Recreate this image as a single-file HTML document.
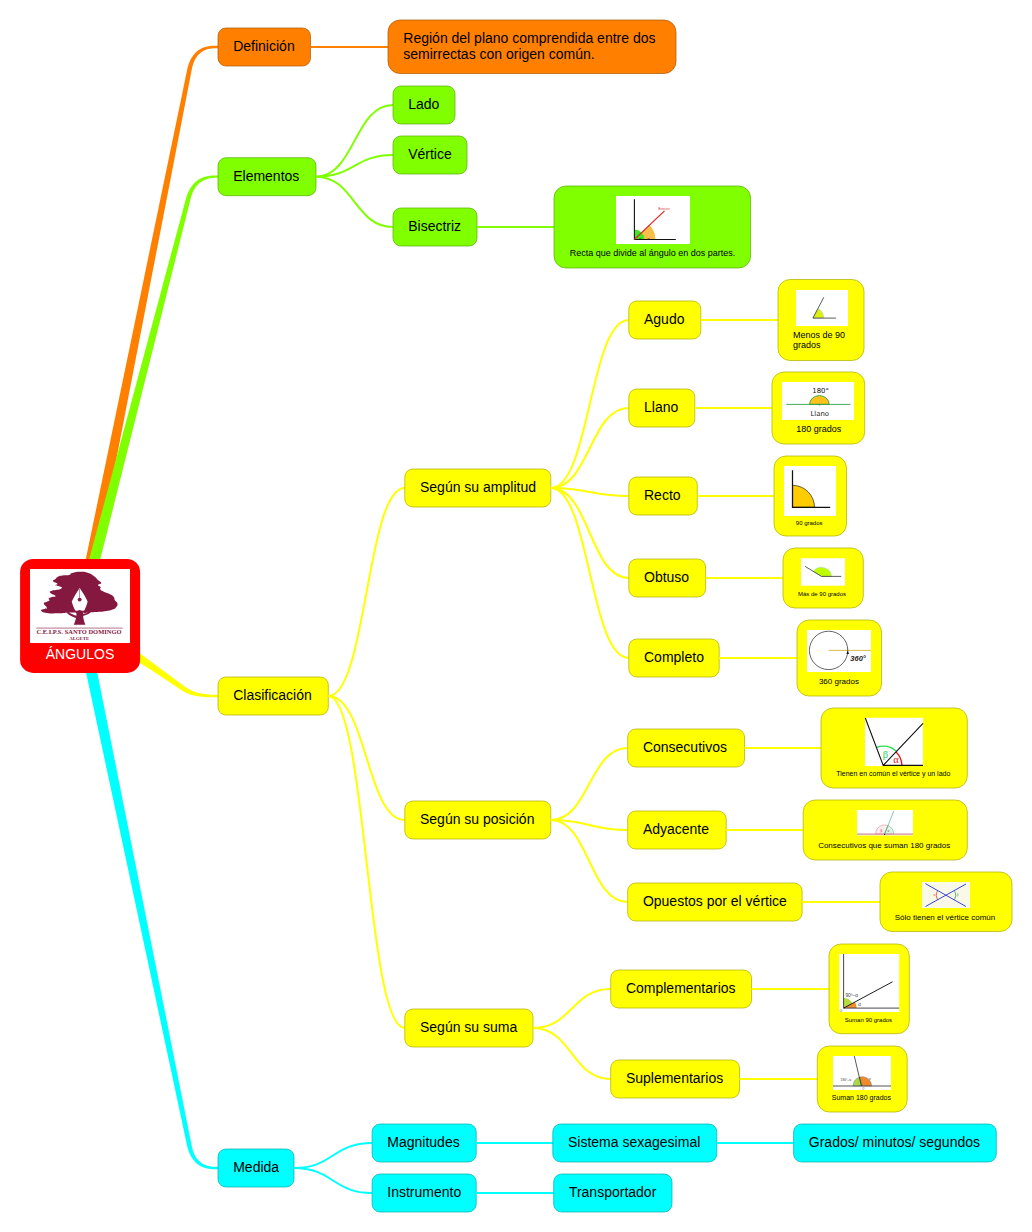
<!DOCTYPE html>
<html lang="es"><head><meta charset="utf-8"><title>ÁNGULOS</title>
<style>html,body{margin:0;padding:0;background:#fff}svg{display:block}text{font-family:"Liberation Sans", Arial, Helvetica, sans-serif}</style></head>
<body><svg width="1032" height="1232" viewBox="0 0 1032 1232">
<rect width="1032" height="1232" fill="#fff"/>
<path d="M85.74,617.15 L91.03,589.79 L96.33,562.43 L101.63,535.08 L106.93,507.72 L112.22,480.36 L117.52,453.00 L122.82,425.64 L128.12,398.29 L133.41,370.93 L138.71,343.57 L144.01,316.21 L149.31,288.86 L154.60,261.50 L159.90,234.14 L165.20,206.78 L170.50,179.42 L175.79,152.07 L181.09,124.71 L186.39,97.35 L191.69,69.99 L192.22,67.37 L192.87,64.93 L193.64,62.67 L194.53,60.58 L195.53,58.67 L196.65,56.92 L197.89,55.34 L199.25,53.91 L200.73,52.64 L202.34,51.53 L204.09,50.57 L205.98,49.76 L208.02,49.11 L210.20,48.63 L212.53,48.30 L215.00,48.15 L220.00,48.15 L220.00,45.85 L215.00,45.85 L212.35,45.87 L209.82,46.08 L207.39,46.47 L205.08,47.06 L202.88,47.84 L200.79,48.81 L198.83,49.99 L197.00,51.36 L195.29,52.94 L193.73,54.70 L192.30,56.65 L191.01,58.79 L189.87,61.10 L188.87,63.60 L188.00,66.27 L187.28,69.11 L181.63,96.40 L175.98,123.68 L170.32,150.97 L164.67,178.26 L159.02,205.55 L153.37,232.83 L147.72,260.12 L142.07,287.41 L136.42,314.69 L130.77,341.98 L125.12,369.27 L119.47,396.55 L113.82,423.84 L108.17,451.13 L102.52,478.42 L96.87,505.70 L91.22,532.99 L85.57,560.28 L79.91,587.56 L74.26,614.85Z" fill="#FF8000"/>
<path d="M85.66,617.47 L90.90,596.57 L96.14,575.68 L101.38,554.78 L106.62,533.88 L111.86,512.99 L117.10,492.09 L122.33,471.19 L127.57,450.30 L132.81,429.40 L138.05,408.50 L143.29,387.61 L148.53,366.71 L153.77,345.81 L159.01,324.92 L164.25,304.02 L169.48,283.12 L174.72,262.23 L179.96,241.33 L185.20,220.43 L190.44,199.54 L191.12,196.95 L191.90,194.53 L192.80,192.29 L193.80,190.22 L194.91,188.32 L196.13,186.58 L197.46,185.01 L198.91,183.59 L200.47,182.33 L202.15,181.22 L203.95,180.26 L205.89,179.46 L207.97,178.81 L210.17,178.33 L212.52,178.01 L215.00,177.85 L220.00,177.85 L220.00,175.55 L215.00,175.55 L212.35,175.57 L209.80,175.77 L207.35,176.15 L205.01,176.73 L202.77,177.49 L200.63,178.45 L198.61,179.60 L196.71,180.94 L194.92,182.48 L193.26,184.21 L191.73,186.13 L190.32,188.22 L189.05,190.50 L187.91,192.96 L186.89,195.59 L186.01,198.39 L180.42,219.19 L174.84,240.00 L169.26,260.81 L163.67,281.62 L158.09,302.42 L152.51,323.23 L146.92,344.04 L141.34,364.84 L135.76,385.65 L130.17,406.46 L124.59,427.27 L119.00,448.07 L113.42,468.88 L107.84,489.69 L102.25,510.49 L96.67,531.30 L91.09,552.11 L85.50,572.92 L79.92,593.72 L74.34,614.53Z" fill="#80FF00"/>
<path d="M76.64,620.79 L81.91,624.28 L87.17,627.76 L92.44,631.25 L97.70,634.74 L102.97,638.23 L108.23,641.71 L113.50,645.20 L118.76,648.69 L124.03,652.18 L129.30,655.66 L134.56,659.15 L139.83,662.64 L145.09,666.13 L150.36,669.61 L155.62,673.10 L160.89,676.59 L166.15,680.08 L171.42,683.56 L176.69,687.05 L181.95,690.54 L183.47,691.45 L185.06,692.28 L186.71,693.05 L188.42,693.75 L190.20,694.38 L192.04,694.95 L193.95,695.45 L195.91,695.88 L197.95,696.25 L200.04,696.56 L202.20,696.81 L204.43,697.00 L206.72,697.13 L209.08,697.19 L211.51,697.20 L214.00,697.15 L220.00,697.15 L220.00,694.85 L214.00,694.85 L211.57,694.74 L209.21,694.57 L206.94,694.35 L204.74,694.07 L202.62,693.73 L200.59,693.34 L198.64,692.89 L196.77,692.38 L194.98,691.83 L193.27,691.22 L191.65,690.56 L190.11,689.85 L188.65,689.09 L187.27,688.28 L185.98,687.43 L184.77,686.53 L179.70,682.76 L174.63,679.00 L169.56,675.23 L164.48,671.46 L159.41,667.70 L154.34,663.93 L149.27,660.17 L144.20,656.40 L139.13,652.63 L134.06,648.87 L128.99,645.10 L123.92,641.34 L118.85,637.57 L113.78,633.81 L108.71,630.04 L103.64,626.27 L98.57,622.51 L93.50,618.74 L88.43,614.98 L83.36,611.21Z" fill="#FFFF00"/>
<path d="M74.27,617.18 L79.91,643.62 L85.56,670.06 L91.20,696.50 L96.85,722.93 L102.49,749.37 L108.13,775.81 L113.78,802.24 L119.42,828.68 L125.06,855.12 L130.71,881.56 L136.35,907.99 L141.99,934.43 L147.64,960.87 L153.28,987.31 L158.92,1013.74 L164.57,1040.18 L170.21,1066.62 L175.85,1093.06 L181.50,1119.49 L187.14,1145.93 L187.88,1148.77 L188.76,1151.43 L189.78,1153.93 L190.94,1156.24 L192.24,1158.37 L193.68,1160.32 L195.25,1162.08 L196.96,1163.65 L198.81,1165.02 L200.78,1166.19 L202.87,1167.17 L205.07,1167.94 L207.39,1168.53 L209.82,1168.92 L212.35,1169.13 L215.00,1169.15 L220.00,1169.15 L220.00,1166.85 L215.00,1166.85 L212.52,1166.70 L210.19,1166.37 L208.01,1165.89 L205.97,1165.24 L204.08,1164.43 L202.32,1163.47 L200.70,1162.36 L199.21,1161.09 L197.84,1159.67 L196.60,1158.08 L195.47,1156.34 L194.45,1154.42 L193.55,1152.34 L192.77,1150.07 L192.10,1147.64 L191.55,1145.02 L186.26,1118.51 L180.97,1092.00 L175.68,1065.49 L170.39,1038.98 L165.10,1012.47 L159.81,985.96 L154.52,959.45 L149.22,932.94 L143.93,906.43 L138.64,879.92 L133.35,853.41 L128.06,826.90 L122.77,800.39 L117.48,773.88 L112.19,747.37 L106.89,720.86 L101.60,694.35 L96.31,667.84 L91.02,641.33 L85.73,614.82Z" fill="#00FFFF"/>
<rect x="218" y="28.0" width="92.5" height="38.0" rx="8" fill="#FF8000" stroke="#AD5700" stroke-width="0.7"/>
<text x="233.20" y="51" font-size="14" text-anchor="start" fill="#000" >Definición</text>
<rect x="218" y="157.7" width="98.0" height="38.0" rx="8" fill="#80FF00" stroke="#57AD00" stroke-width="0.7"/>
<text x="233.20" y="180.7" font-size="14" text-anchor="start" fill="#000" >Elementos</text>
<rect x="218" y="677.0" width="110.3" height="38.0" rx="8" fill="#FFFF00" stroke="#ADAD00" stroke-width="0.7"/>
<text x="233.20" y="700" font-size="14" text-anchor="start" fill="#000" >Clasificación</text>
<rect x="218" y="1149.0" width="76.0" height="38.0" rx="8" fill="#00FFFF" stroke="#00ADAD" stroke-width="0.7"/>
<text x="233.20" y="1172" font-size="14" text-anchor="start" fill="#000" >Medida</text>
<path d="M310.5,47L388,47" stroke="#FF8000" stroke-width="2" fill="none"/>
<rect x="388" y="20" width="288.0" height="53.5" rx="12" fill="#FF8000" stroke="#AD5700" stroke-width="0.7"/>
<text x="403.3" y="43" font-size="14" text-anchor="start" fill="#000" >Región del plano comprendida entre dos</text>
<text x="403.3" y="59" font-size="14" text-anchor="start" fill="#000" >semirrectas con origen común.</text>
<path d="M316,176.7C354.5,176.7 354.5,105 393,105" stroke="#80FF00" stroke-width="2" fill="none"/>
<path d="M316,176.7C354.5,176.7 354.5,155 393,155" stroke="#80FF00" stroke-width="2" fill="none"/>
<path d="M316,176.7C354.5,176.7 354.5,227 393,227" stroke="#80FF00" stroke-width="2" fill="none"/>
<rect x="393" y="86.0" width="62.0" height="38.0" rx="8" fill="#80FF00" stroke="#57AD00" stroke-width="0.7"/>
<text x="408.20" y="109" font-size="14" text-anchor="start" fill="#000" >Lado</text>
<rect x="393" y="136.0" width="74.0" height="38.0" rx="8" fill="#80FF00" stroke="#57AD00" stroke-width="0.7"/>
<text x="408.20" y="159" font-size="14" text-anchor="start" fill="#000" >Vértice</text>
<rect x="393" y="208.0" width="84.0" height="38.0" rx="8" fill="#80FF00" stroke="#57AD00" stroke-width="0.7"/>
<text x="408.20" y="231" font-size="14" text-anchor="start" fill="#000" >Bisectriz</text>
<path d="M477,227L554,227" stroke="#80FF00" stroke-width="2" fill="none"/>
<rect x="554" y="186" width="196.6" height="82.0" rx="12" fill="#80FF00" stroke="#57AD00" stroke-width="0.7"/>
<g id="img-bisectriz"><rect x="616" y="196" width="74" height="48" fill="#fff"/><path d="M634.4,239.5 L655.4,239.5 A21,21 0 0 0 649.25,224.65 Z" fill="#F7BE4A"/><path d="M634.4,239.5 L644.4,239.5 A10,10 0 0 0 634.4,229.5 Z" fill="#3EE81E"/><path d="M634.4,199.2 V239.5 H675.8" stroke="#111" stroke-width="1.1" fill="none"/><path d="M634.4,239.5 L664.5,210.9" stroke="#D93030" stroke-width="1.3"/>
<text x="664" y="209.6" font-size="3.1" text-anchor="middle" fill="#D04040" >Bisectriz</text>
<text x="640.5" y="238.6" font-size="2.4" text-anchor="middle" fill="#222" >90°</text>
<text x="648.8" y="238.6" font-size="2.4" text-anchor="middle" fill="#222" >45°</text>
</g>
<text x="652.5" y="256" font-size="9" text-anchor="middle" fill="#000" >Recta que divide al ángulo en dos partes.</text>
<path d="M328.3,696C366.6,696 366.6,488 404.8,488" stroke="#FFFF00" stroke-width="2" fill="none"/>
<path d="M328.3,696C366.6,696 366.6,820 404.8,820" stroke="#FFFF00" stroke-width="2" fill="none"/>
<path d="M328.3,696C366.6,696 366.6,1028 404.8,1028" stroke="#FFFF00" stroke-width="2" fill="none"/>
<rect x="404.8" y="469.0" width="146.0" height="38.0" rx="8" fill="#FFFF00" stroke="#ADAD00" stroke-width="0.7"/>
<text x="420.00" y="492" font-size="14" text-anchor="start" fill="#000" >Según su amplitud</text>
<rect x="404.8" y="801.0" width="146.0" height="38.0" rx="8" fill="#FFFF00" stroke="#ADAD00" stroke-width="0.7"/>
<text x="420.00" y="824" font-size="14" text-anchor="start" fill="#000" >Según su posición</text>
<rect x="404.8" y="1009.0" width="128.2" height="38.0" rx="8" fill="#FFFF00" stroke="#ADAD00" stroke-width="0.7"/>
<text x="420.00" y="1032" font-size="14" text-anchor="start" fill="#000" >Según su suma</text>
<path d="M550.8,488C589.8,488 589.8,320 628.8,320" stroke="#FFFF00" stroke-width="2" fill="none"/>
<path d="M550.8,488C589.8,488 589.8,408 628.8,408" stroke="#FFFF00" stroke-width="2" fill="none"/>
<path d="M550.8,488C589.8,488 589.8,496 628.8,496" stroke="#FFFF00" stroke-width="2" fill="none"/>
<path d="M550.8,488C589.8,488 589.8,578 628.8,578" stroke="#FFFF00" stroke-width="2" fill="none"/>
<path d="M550.8,488C589.8,488 589.8,658 628.8,658" stroke="#FFFF00" stroke-width="2" fill="none"/>
<rect x="628.8" y="301.0" width="72.0" height="38.0" rx="8" fill="#FFFF00" stroke="#ADAD00" stroke-width="0.7"/>
<text x="644.00" y="324" font-size="14" text-anchor="start" fill="#000" >Agudo</text>
<path d="M700.8,320L778,320" stroke="#FFFF00" stroke-width="2" fill="none"/>
<rect x="628.8" y="389.0" width="66.0" height="38.0" rx="8" fill="#FFFF00" stroke="#ADAD00" stroke-width="0.7"/>
<text x="644.00" y="412" font-size="14" text-anchor="start" fill="#000" >Llano</text>
<path d="M694.8,408L772,408" stroke="#FFFF00" stroke-width="2" fill="none"/>
<rect x="628.8" y="477.0" width="68.5" height="38.0" rx="8" fill="#FFFF00" stroke="#ADAD00" stroke-width="0.7"/>
<text x="644.00" y="500" font-size="14" text-anchor="start" fill="#000" >Recto</text>
<path d="M697.3,496L774,496" stroke="#FFFF00" stroke-width="2" fill="none"/>
<rect x="628.8" y="559.0" width="76.8" height="38.0" rx="8" fill="#FFFF00" stroke="#ADAD00" stroke-width="0.7"/>
<text x="644.00" y="582" font-size="14" text-anchor="start" fill="#000" >Obtuso</text>
<path d="M705.5999999999999,578L783,578" stroke="#FFFF00" stroke-width="2" fill="none"/>
<rect x="628.8" y="639.0" width="90.4" height="38.0" rx="8" fill="#FFFF00" stroke="#ADAD00" stroke-width="0.7"/>
<text x="644.00" y="662" font-size="14" text-anchor="start" fill="#000" >Completo</text>
<path d="M719.1999999999999,658L797,658" stroke="#FFFF00" stroke-width="2" fill="none"/>
<path d="M550.8,820C589.2,820 589.2,748 627.7,748" stroke="#FFFF00" stroke-width="2" fill="none"/>
<path d="M550.8,820C589.2,820 589.2,830 627.7,830" stroke="#FFFF00" stroke-width="2" fill="none"/>
<path d="M550.8,820C589.2,820 589.2,902 627.7,902" stroke="#FFFF00" stroke-width="2" fill="none"/>
<rect x="627.7" y="729.0" width="116.8" height="38.0" rx="8" fill="#FFFF00" stroke="#ADAD00" stroke-width="0.7"/>
<text x="642.90" y="752" font-size="14" text-anchor="start" fill="#000" >Consecutivos</text>
<path d="M744.5,748L821,748" stroke="#FFFF00" stroke-width="2" fill="none"/>
<rect x="627.7" y="811.0" width="98.5" height="38.0" rx="8" fill="#FFFF00" stroke="#ADAD00" stroke-width="0.7"/>
<text x="642.90" y="834" font-size="14" text-anchor="start" fill="#000" >Adyacente</text>
<path d="M726.2,830L803,830" stroke="#FFFF00" stroke-width="2" fill="none"/>
<rect x="627.7" y="883.0" width="174.4" height="38.0" rx="8" fill="#FFFF00" stroke="#ADAD00" stroke-width="0.7"/>
<text x="642.90" y="906" font-size="14" text-anchor="start" fill="#000" >Opuestos por el vértice</text>
<path d="M802.1,902L880,902" stroke="#FFFF00" stroke-width="2" fill="none"/>
<path d="M533.0,1028C571.9,1028 571.9,989 610.7,989" stroke="#FFFF00" stroke-width="2" fill="none"/>
<path d="M533.0,1028C571.9,1028 571.9,1079 610.7,1079" stroke="#FFFF00" stroke-width="2" fill="none"/>
<rect x="610.7" y="970.0" width="140.8" height="38.0" rx="8" fill="#FFFF00" stroke="#ADAD00" stroke-width="0.7"/>
<text x="625.90" y="993" font-size="14" text-anchor="start" fill="#000" >Complementarios</text>
<path d="M751.5,989L829,989" stroke="#FFFF00" stroke-width="2" fill="none"/>
<rect x="610.7" y="1060.0" width="128.8" height="38.0" rx="8" fill="#FFFF00" stroke="#ADAD00" stroke-width="0.7"/>
<text x="625.90" y="1083" font-size="14" text-anchor="start" fill="#000" >Suplementarios</text>
<path d="M739.5,1079L817,1079" stroke="#FFFF00" stroke-width="2" fill="none"/>
<rect x="778" y="279.5" width="86.0" height="81.0" rx="12" fill="#FFFF00" stroke="#ADAD00" stroke-width="0.7"/>
<g id="img-agudo"><rect x="796" y="290" width="52" height="36" fill="#fff"/><path d="M812.9,318.1 L823.8,318.1 A10.9,10.9 0 0 0 818,308.4 Z" fill="#DDEE11" stroke="#9CC8E8" stroke-width="0.4"/><path d="M823.8,297.3 L812.9,318.1 H835.9" stroke="#333" stroke-width="0.8" fill="none"/></g>
<text x="793" y="337.5" font-size="9" text-anchor="start" fill="#000" >Menos de 90</text>
<text x="793" y="347.5" font-size="9" text-anchor="start" fill="#000" >grados</text>
<rect x="772" y="372" width="92.7" height="72.0" rx="12" fill="#FFFF00" stroke="#ADAD00" stroke-width="0.7"/>
<g id="img-llano"><rect x="782" y="382" width="72" height="38" fill="#fff"/><path d="M809.6,404.4 A9.8,8.8 0 0 1 829.2,404.4 Z" fill="#FFC21A" stroke="#2FA24A" stroke-width="0.9"/><path d="M786.3,404.4 H850.3" stroke="#2FA24A" stroke-width="0.9"/><circle cx="819.4" cy="404.6" r="0.9" fill="#2FA24A"/>
<text x="820.6" y="392.5" font-size="6.9" text-anchor="middle" fill="#111" style="font-family:DejaVu Sans,sans-serif">180°</text>
<text x="819.7" y="415.6" font-size="6.9" text-anchor="middle" fill="#222" style="font-family:DejaVu Sans,sans-serif">Llano</text>
</g>
<text x="818.8" y="431.6" font-size="9" text-anchor="middle" fill="#000" >180 grados</text>
<rect x="774" y="456" width="72.5" height="80.0" rx="12" fill="#FFFF00" stroke="#ADAD00" stroke-width="0.7"/>
<g id="img-recto"><rect x="784" y="466" width="52" height="50" fill="#fff"/><path d="M792.5,507.3 L814.5,507.3 A22,22 0 0 0 792.5,485.3 Z" fill="#FFCC00" stroke="#222" stroke-width="0.7"/><path d="M792.5,470.3 V507.3 H830.2" stroke="#111" stroke-width="1.25" fill="none"/></g>
<text x="809.2" y="524.6" font-size="6" text-anchor="middle" fill="#000" >90 grados</text>
<rect x="783" y="548" width="80.3" height="60.0" rx="12" fill="#FFFF00" stroke="#ADAD00" stroke-width="0.7"/>
<g id="img-obtuso"><rect x="801" y="558.2" width="44" height="27.5" fill="#fff"/><path d="M821.5,576.4 L831.5,576.4 A10,9.5 0 0 0 813.3,571.4 Z" fill="#BFFF00" stroke="#9CC8E8" stroke-width="0.4"/><path d="M805.1,566.4 L821.5,576.4 H841.2" stroke="#333" stroke-width="0.8" fill="none"/></g>
<text x="822" y="595.6" font-size="6" text-anchor="middle" fill="#000" >Más de 90 grados</text>
<rect x="797" y="620" width="84.5" height="76.0" rx="12" fill="#FFFF00" stroke="#ADAD00" stroke-width="0.7"/>
<g id="img-completo"><rect x="807" y="630" width="64" height="42" fill="#fff"/><path d="M828.6,650.4 H871" stroke="#D9B13B" stroke-width="0.9"/><circle cx="828.6" cy="650.4" r="19.2" fill="none" stroke="#222" stroke-width="0.7"/><path d="M847.8,650.6 l-1.4,3.4 l2.6,0 z" fill="#111"/>
<text x="850.3" y="660.8" font-size="7.5" text-anchor="start" fill="#222" font-style="italic" font-weight="bold">360°</text>
</g>
<text x="838.9" y="683.9" font-size="8" text-anchor="middle" fill="#000" >360 grados</text>
<rect x="821" y="708" width="146.3" height="80.0" rx="12" fill="#FFFF00" stroke="#ADAD00" stroke-width="0.7"/>
<g id="img-consec"><rect x="865" y="717.8" width="58" height="48.2" fill="#fff"/><path d="M876.6,747.3 A19.4,19.4 0 0 1 896.6,751.5" stroke="#2BDD55" stroke-width="1.4" fill="none"/><path d="M896.0,751.9 A18.6,18.6 0 0 1 901.8,765.5" stroke="#E02020" stroke-width="1.4" fill="none"/><path d="M865.3,718 L883.2,765.4 L923,723.3 M883.2,765.4 H923" stroke="#111" stroke-width="1.1" fill="none"/>
<text x="885.4" y="757.8" font-size="10.5" text-anchor="middle" fill="#33CC55" style='font-family:"Liberation Serif", "DejaVu Serif", serif'>β</text>
<text x="896.0" y="762.6" font-size="10.5" text-anchor="middle" fill="#E02020" style='font-family:"Liberation Serif", "DejaVu Serif", serif'>α</text>
</g>
<text x="893.3" y="776" font-size="7" text-anchor="middle" fill="#000" >Tienen en común el vèrtice y un lado</text>
<rect x="803.2" y="800" width="164.1" height="60.0" rx="12" fill="#FFFF00" stroke="#ADAD00" stroke-width="0.7"/>
<g id="img-ady"><rect x="857" y="810" width="56" height="25.5" fill="#fff"/><path d="M875.6,834 A9,9 0 0 1 887.9,825.6 L884.6,834 Z" fill="#FBECEE" stroke="#D57A8A" stroke-width="0.5"/><path d="M887.9,825.6 A9,9 0 0 1 893.6,834 L884.6,834 Z" fill="#E4F3E6" stroke="#55AA77" stroke-width="0.5"/><path d="M857,834.2 H913" stroke="#D48C9A" stroke-width="1.3"/><path d="M884.6,834 L893.8,811" stroke="#3BA37E" stroke-width="0.6"/><circle cx="884.6" cy="834.3" r="0.6" fill="#222"/>
<text x="881.3" y="831.5" font-size="3" text-anchor="middle" fill="#B03050" >β</text>
<text x="888.3" y="832" font-size="3" text-anchor="middle" fill="#207050" >α</text>
</g>
<text x="884.2" y="847.7" font-size="8" text-anchor="middle" fill="#000" >Consecutivos que suman 180 grados</text>
<rect x="880" y="872" width="132.0" height="59.5" rx="12" fill="#FFFF00" stroke="#ADAD00" stroke-width="0.7"/>
<g id="img-opu"><rect x="922" y="882" width="48" height="26" fill="#FAF8E6"/><path d="M937.5,890.4 A9.8,9.8 0 0 0 937.5,900 " stroke="#E04040" stroke-width="0.8" fill="none"/><path d="M954.5,890.4 A9.8,9.8 0 0 1 954.5,900 " stroke="#40A060" stroke-width="0.8" fill="none"/><path d="M925.5,883.7 L966,906.5 M925.5,906.5 L966,884" stroke="#3545E0" stroke-width="1.0" fill="none"/>
<text x="934.4" y="896.3" font-size="3" text-anchor="middle" fill="#E04040" >α</text>
<text x="957.6" y="896.3" font-size="3" text-anchor="middle" fill="#40A060" >β</text>
</g>
<text x="945" y="920.2" font-size="8" text-anchor="middle" fill="#000" >Sólo tienen el vértice común</text>
<rect x="829" y="944" width="80.3" height="89.7" rx="12" fill="#FFFF00" stroke="#ADAD00" stroke-width="0.7"/>
<g id="img-compl"><rect x="839.2" y="954" width="60" height="58" fill="#fff"/><path d="M843.6,1008.1 L843.6,998.1 A10,10 0 0 1 852.4,1003.4 Z" fill="#B5DD3C"/><path d="M843.6,1008.1 L855,1002 A13,13 0 0 1 856.6,1008.1 Z" fill="#F0902A"/><path d="M843.6,954 V1008.1 H899.2" stroke="#333" stroke-width="0.9" fill="none"/><path d="M843.6,1008.1 L892.5,981.8" stroke="#111" stroke-width="0.95"/>
<text x="845.4" y="996.8" font-size="4.8" text-anchor="start" fill="#444" >90º–α</text>
<text x="858.3" y="1005.5" font-size="4.8" text-anchor="start" fill="#444" >α</text>
<text x="839.4" y="1011.7" font-size="3.6" text-anchor="start" fill="#333" >O</text>
</g>
<text x="868.4" y="1022" font-size="6" text-anchor="middle" fill="#000" >Suman 90 grados</text>
<rect x="817.3" y="1046" width="89.9" height="66.0" rx="12" fill="#FFFF00" stroke="#ADAD00" stroke-width="0.7"/>
<g id="img-supl"><rect x="833" y="1056" width="58" height="34" fill="#fff"/><path d="M853,1086 A9.3,9.3 0 0 1 860,1077 L862.3,1086 Z" fill="#A9D94A" stroke="#445" stroke-width="0.3"/><path d="M860,1077 A9.3,9.3 0 0 1 871.6,1086 L862.3,1086 Z" fill="#F08A2A" stroke="#445" stroke-width="0.3"/><path d="M833,1086 H891" stroke="#555" stroke-width="1.1"/><path d="M861.4,1086 L854.3,1056" stroke="#111" stroke-width="0.7"/>
<text x="840.6" y="1080.8" font-size="3.3" text-anchor="start" fill="#444" >180º–α</text>
<text x="868.8" y="1080.2" font-size="3.4" text-anchor="start" fill="#555" >α</text>
<text x="862.2" y="1089.8" font-size="2.6" text-anchor="start" fill="#444" >O</text>
</g>
<text x="861.4" y="1100.3" font-size="7" text-anchor="middle" fill="#000" >Suman 180 grados</text>
<path d="M294,1168C333.0,1168 333.0,1143 372,1143" stroke="#00FFFF" stroke-width="2" fill="none"/>
<path d="M294,1168C333.0,1168 333.0,1193 372,1193" stroke="#00FFFF" stroke-width="2" fill="none"/>
<rect x="372.1" y="1124.0" width="104.1" height="38.0" rx="8" fill="#00FFFF" stroke="#00ADAD" stroke-width="0.7"/>
<text x="387.30" y="1147" font-size="14" text-anchor="start" fill="#000" >Magnitudes</text>
<rect x="372.1" y="1174.0" width="104.1" height="38.0" rx="8" fill="#00FFFF" stroke="#00ADAD" stroke-width="0.7"/>
<text x="387.30" y="1197" font-size="14" text-anchor="start" fill="#000" >Instrumento</text>
<path d="M476.20000000000005,1143L553,1143" stroke="#00FFFF" stroke-width="2" fill="none"/>
<path d="M476.20000000000005,1193L554,1193" stroke="#00FFFF" stroke-width="2" fill="none"/>
<rect x="552.8" y="1124.0" width="164.0" height="38.0" rx="8" fill="#00FFFF" stroke="#00ADAD" stroke-width="0.7"/>
<text x="568.00" y="1147" font-size="14" text-anchor="start" fill="#000" >Sistema sexagesimal</text>
<rect x="553.7" y="1174.0" width="118.3" height="38.0" rx="8" fill="#00FFFF" stroke="#00ADAD" stroke-width="0.7"/>
<text x="568.90" y="1197" font-size="14" text-anchor="start" fill="#000" >Transportador</text>
<path d="M716.8,1143L793.6,1143" stroke="#00FFFF" stroke-width="2" fill="none"/>
<rect x="793.6" y="1124.0" width="202.7" height="38.0" rx="8" fill="#00FFFF" stroke="#00ADAD" stroke-width="0.7"/>
<text x="808.80" y="1147" font-size="14" text-anchor="start" fill="#000" >Grados/ minutos/ segundos</text>
<rect x="20.1" y="558.9" width="120" height="114" rx="13" fill="#FF0000"/>
<g id="logo"><rect x="30" y="569" width="100" height="74" fill="#fff"/>
<g transform="translate(38,568) scale(0.08139)" fill="#85183F"><path d="M40,525C30,511 55,516 75,505C95,494 109,508 108,488C107,468 74,461 72,440C70,419 80,430 100,418C120,406 130,413 140,400C150,387 123,388 132,375C141,362 145,364 170,355C195,346 221,360 215,345C209,330 164,324 150,305C136,286 143,291 170,280C197,269 203,278 240,268C277,258 285,258 292,245C299,232 285,235 262,225C239,215 222,222 215,212C208,202 249,207 240,192C231,177 192,179 185,162C178,145 196,152 215,135C234,118 224,118 250,105C276,92 260,98 300,92C340,86 349,94 385,85C421,76 380,74 420,62C460,50 463,47 520,46C577,45 560,42 610,58C660,74 647,71 685,98C723,125 711,122 738,148C765,174 775,165 775,183C775,201 740,192 738,208C736,224 762,219 770,235C778,251 753,245 765,262C777,279 774,274 810,292C846,310 849,303 885,322C921,341 912,333 930,355C948,377 932,372 945,395C958,418 970,407 975,432C980,457 980,455 962,478C944,501 958,494 915,510C872,526 884,522 820,532C756,542 758,537 700,542C642,547 662,545 625,548C588,551 609,553 575,552C541,551 552,546 512,545C472,544 480,548 440,548C400,548 437,544 380,546C323,548 331,554 250,556C169,558 173,561 110,552C47,543 50,539 40,525Z"/><path d="M474,540 L552,540 C552,600 562,650 582,696 L440,696 C462,650 474,600 474,540 Z"/><path d="M476,618 C430,606 380,582 348,548 L376,540 C402,562 440,578 478,586 Z"/><path d="M550,590 C592,582 624,565 650,545 L628,538 C606,552 580,560 550,565 Z"/><path d="M512,245 C475,300 435,365 415,415 C425,455 440,490 458,522 L512,535 L568,522 C585,490 600,455 610,415 C590,365 550,300 512,245 Z" fill="#fff"/><path d="M462,532 L512,516 L562,532 L556,556 L468,556 Z"/><path d="M509,258 H515 V370 H509 Z"/><circle cx="512" cy="388" r="24"/></g>
<rect x="36.3" y="627.75" width="86.3" height="0.6" fill="#85183F"/>
<text x="79" y="634.2" font-size="6.4" text-anchor="middle" fill="#85183F" style='font-family:"Liberation Serif", "DejaVu Serif", serif' font-weight="bold" textLength="85" lengthAdjust="spacingAndGlyphs">C.E.I.P.S. SANTO DOMINGO</text>
<text x="79.2" y="639.6" font-size="5" text-anchor="middle" fill="#85183F" style='font-family:"Liberation Serif", "DejaVu Serif", serif' font-weight="bold" textLength="20" lengthAdjust="spacingAndGlyphs">ALGETE</text>
</g>
<text x="80" y="658.6" font-size="14" text-anchor="middle" fill="#fff" >ÁNGULOS</text>
</svg></body></html>
